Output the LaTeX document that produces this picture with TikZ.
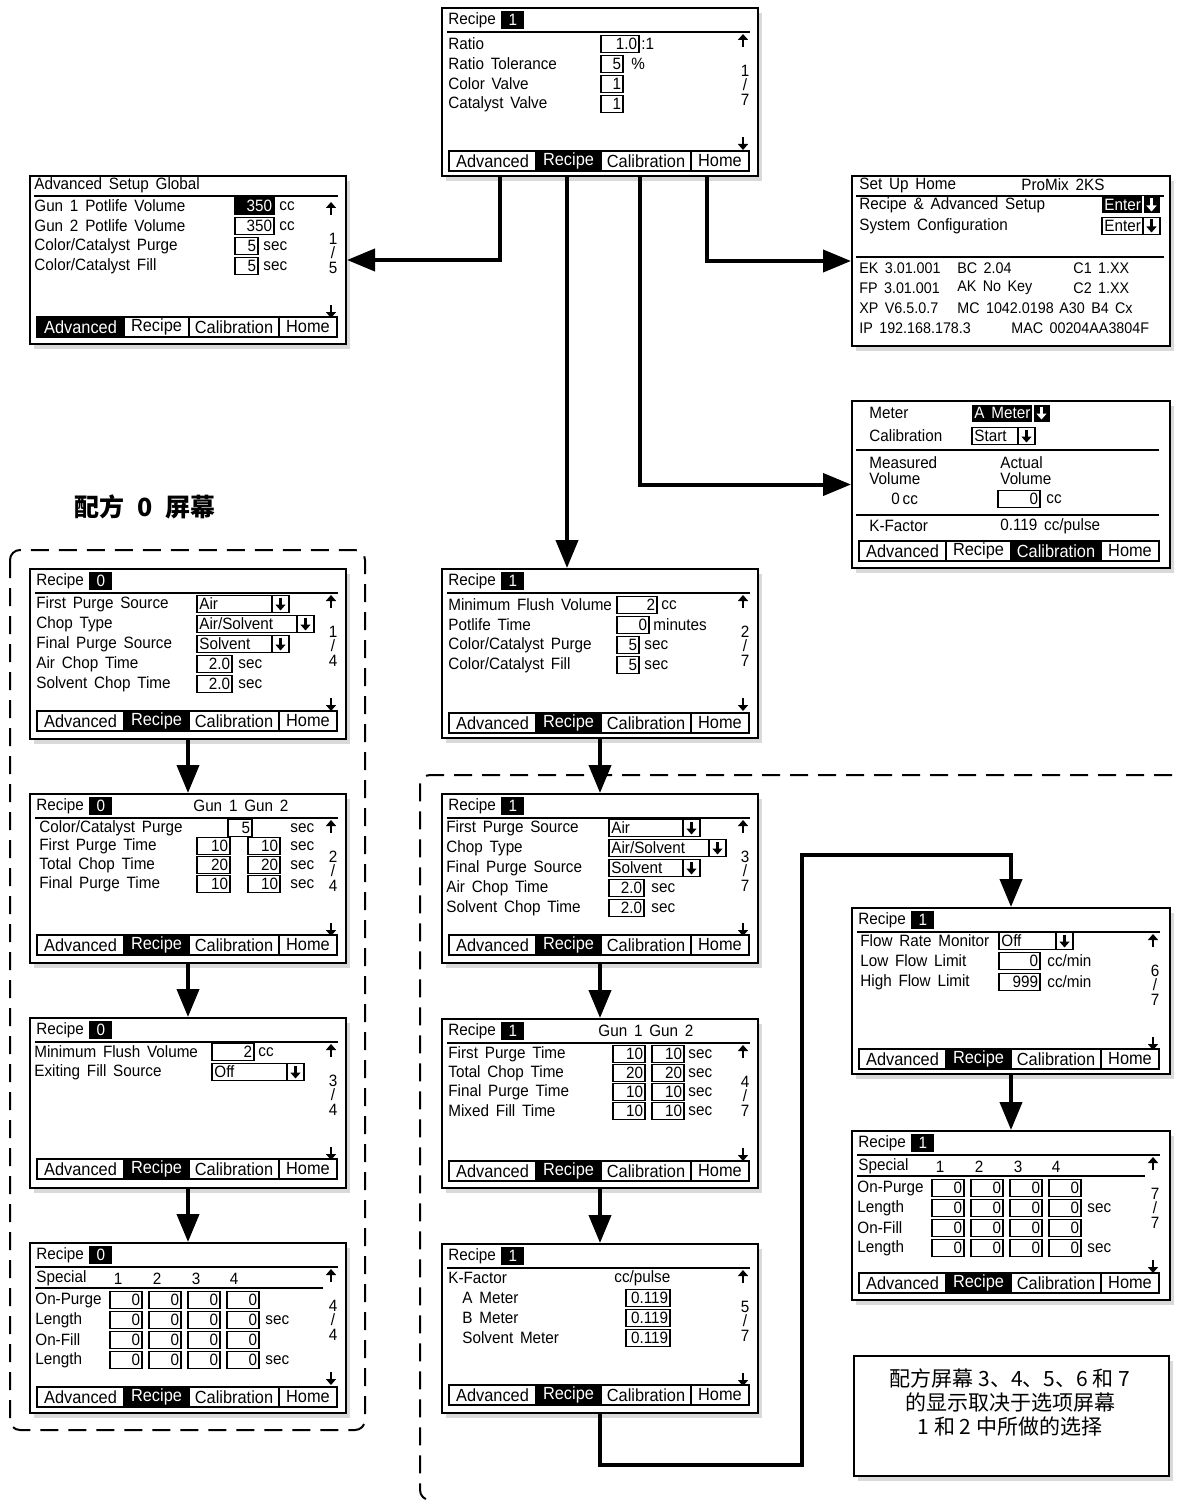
\documentclass[tikz,border=0pt]{standalone}
\usepackage{fontspec}
\setmainfont{Liberation Sans}
\newfontfamily\lcdfont{Liberation Sans}[FakeStretch=0.93,WordSpace=1.6]
\newfontfamily\cjk{Noto Sans CJK SC}
\usepackage{tikz}
\usetikzlibrary{arrows.meta, shadows, calc, positioning}

%% screen pieces, all in pixel units of the local screen origin
\newcommand\scrframe[3]{%
  \pgfmathsetmacro\scrw{#2*0.5}\pgfmathsetmacro\scrh{#3*0.5}%
  \node[scrframe, minimum width=\scrw pt, minimum height=\scrh pt] (#1) at (0,0) {};}
\newcommand\scrlab[3]{\node[lcd, anchor=west] at (#1,#2) {#3};}
\newcommand\scrinfo[3]{\node[lcd, font=\lcdfont\fontsize{7.7}{9}\selectfont, anchor=west] at (#1,#2) {#3};}
\newcommand\scrtitle[1]{%
  \scrlab{7}{13}{Recipe}
  \node[lcd, fill=black, text=white, minimum width=11.5pt, minimum height=9pt, anchor=west] at (60,13) {#1};
  \draw[rule] (6,25) -- (309,25);}
\newcommand\valbox[5][]{%
  \draw[valbox, #1] (#2,#4-8.5) rectangle (#3,#4+8.5);
  \node[lcd, anchor=east, #1] at (#3-1.5,#4) {#5};}
\newcommand\dropbox[4]{%
  \draw[valbox] (#1,#3-8.5) rectangle (#2,#3+8.5);
  \draw[valbox] (#2-17,#3-8.5) -- (#2-17,#3+8.5);
  \node[lcd, anchor=west] at (#1+2,#3) {#4};
  \draw[glyph] (#2-8.5,#3-6.5) -- (#2-8.5,#3+6.5);}
\newcommand\dropboxinv[4]{%
  \fill (#1,#3-8.5) rectangle (#2,#3+8.5);
  \draw[white, line width=0.8pt] (#2-17,#3-8.5) -- (#2-17,#3+8.5);
  \node[lcd, text=white, anchor=west] at (#1+2,#3) {#4};
  \draw[glyph, white] (#2-8.5,#3-6.5) -- (#2-8.5,#3+6.5);}
\newcommand\scrpage[2]{%
  \draw[glyph] (302,40) -- (302,27);
  \node[lcd] at (304,64) {#1};
  \node[lcd] at (304,78) {/};
  \node[lcd] at (304,93) {#2};
  \draw[glyph] (302,130) -- (302,143);}
\newcommand\scrtabs[2]{%
  \foreach \tabname/\xa/\xb [count=\tabno] in {Advanced/8/95,Recipe/95/160,Calibration/160/250,Home/250/308}{%
    \ifnum\tabno=#2\relax
      \draw[tabcell, fill=black] (\xa,#1) rectangle (\xb,#1+20);
      \node[tabtext, text=white] at ({(\xa+\xb)/2},#1+10) {\tabname};
    \else
      \draw[tabcell] (\xa,#1) rectangle (\xb,#1+20);
      \node[tabtext] at ({(\xa+\xb)/2},#1+10) {\tabname};
    \fi}}
\newcommand\scrspecial{%
  \scrlab{7}{36}{Special}
  \foreach \num/\xn in {1/89,2/128,3/167,4/205}{\node[lcd] at (\xn,37) {\num};}
  \draw[rule] (6,46) -- (294,46);
  \foreach \rowname/\yr in {On-Purge/58,Length/78,On-Fill/98,Length/118}{%
    \scrlab{6}{\yr}{\rowname}
    \foreach \xa in {81,120,159,198}{\valbox{\xa}{\xa+32}{\yr}{0}}}
  \scrlab{236}{78}{sec}
  \scrlab{236}{118}{sec}}

\begin{document}
\begin{tikzpicture}[
    x=0.5pt, y=-0.5pt,
    lcd/.style      = {font=\lcdfont\fontsize{8.2}{9}\selectfont, inner sep=0pt},
    tabtext/.style  = {font=\lcdfont\fontsize{8.8}{10}\selectfont, inner sep=0pt},
    scrframe/.style = {draw, line width=1pt, fill=white, anchor=north west, inner sep=0pt,
                       drop shadow={shadow xshift=2pt, shadow yshift=-2.5pt, opacity=0.3}},
    valbox/.style   = {draw, line width=0.6pt},
    tabcell/.style  = {draw, line width=0.6pt},
    rule/.style     = {line width=0.7pt},
    glyph/.style    = {line width=1.3pt, -{Triangle[length=3pt, width=5pt]}},
    flow/.style     = {line width=2pt, -{Triangle[length=14pt, width=11pt]}},
    region/.style   = {line width=1pt, dash pattern=on 9pt off 5pt, rounded corners=5pt},
    notebox/.style  = {draw, line width=1pt, fill=white, anchor=north west, inner sep=0pt,
                       drop shadow={shadow xshift=2pt, shadow yshift=-2.5pt, opacity=0.3}},
  ]
  \useasboundingbox (0,0) rectangle (1182,1503);

  %% Dashed groups
  \draw[region] (10,550) rectangle (365,1430);
  \draw[region] (1200,775) -- (420,775) -- (420,1500) -- (434,1500);
  \node[font=\cjk\bfseries\fontsize{12.5}{14}\selectfont] (titleZero) at (145,507)
    {配方\hspace{0.5em}0\hspace{0.5em}屏幕};

  %% Recipe 1, screen 1
  \begin{scope}[shift={(441,7)}]
    \scrframe{scrRatio}{316}{168}
    \scrtitle{1}
    \scrlab{7}{37}{Ratio}            \valbox{160}{198}{37}{1.0} \scrlab{200}{37}{:1}
    \scrlab{7}{57}{Ratio Tolerance}  \valbox{160}{182}{57}{5}   \scrlab{190}{57}{\%}
    \scrlab{7}{77}{Color Valve}      \valbox{160}{182}{77}{1}
    \scrlab{7}{97}{Catalyst Valve}   \valbox{160}{182}{97}{1}
    \scrpage{1}{7}
    \scrtabs{144}{2}
  \end{scope}

  %% Advanced setup
  \begin{scope}[shift={(29,175)}]
    \scrframe{scrAdv}{316}{168}
    \scrlab{5}{10}{Advanced Setup Global}
    \draw[rule] (5,21) -- (309,21);
    \scrlab{5}{31}{Gun 1 Potlife Volume} \valbox[fill=black, text=white]{206}{245}{31}{350} \scrlab{250}{31}{cc}
    \scrlab{5}{51}{Gun 2 Potlife Volume} \valbox{206}{245}{51}{350} \scrlab{250}{51}{cc}
    \scrlab{5}{71}{Color/Catalyst Purge} \valbox{206}{229}{71}{5}   \scrlab{234}{71}{sec}
    \scrlab{5}{91}{Color/Catalyst Fill}  \valbox{206}{229}{91}{5}   \scrlab{234}{91}{sec}
    \scrpage{1}{5}
    \scrtabs{142}{1}
  \end{scope}

  %% Set up home
  \begin{scope}[shift={(851,175)}]
    \scrframe{scrHome}{318}{170}
    \scrlab{8}{10}{Set Up Home} \scrlab{170}{10}{ProMix 2KS}
    \draw[rule] (5,21) -- (313,21);
    \scrlab{8}{30}{Recipe \& Advanced Setup} \dropboxinv{251}{309}{30}{Enter}
    \scrlab{8}{51}{System Configuration}     \dropbox{251}{309}{51}{Enter}
    \draw[rule] (5,82) -- (313,82);
    \scrinfo{8}{93}{EK 3.01.001}       \scrinfo{106}{93}{BC 2.04}       \scrinfo{222}{93}{C1 1.XX}
    \scrinfo{8}{113}{FP 3.01.001}      \scrinfo{106}{113}{AK No Key}    \scrinfo{222}{113}{C2 1.XX}
    \scrinfo{8}{133}{XP V6.5.0.7}      \scrinfo{106}{133}{MC 1042.0198} \scrinfo{208}{133}{A30 B4 Cx}
    \scrinfo{8}{153}{IP 192.168.178.3} \scrinfo{160}{153}{MAC 00204AA3804F}
  \end{scope}

  %% Calibration
  \begin{scope}[shift={(851,400)}]
    \scrframe{scrCal}{318}{167}
    \scrlab{18}{13}{Meter}       \dropboxinv{121}{199}{13}{A Meter}
    \scrlab{18}{36}{Calibration} \dropbox{121}{184}{36}{Start}
    \draw[rule] (5,50) -- (308,50);
    \scrlab{18}{63}{Measured} \scrlab{149}{63}{Actual}
    \scrlab{18}{79}{Volume}   \scrlab{149}{79}{Volume}
    \scrlab{40}{99}{0\,cc}    \valbox{147}{189}{99}{0} \scrlab{195}{99}{cc}
    \draw[rule] (5,115) -- (308,115);
    \scrlab{18}{126}{K-Factor} \scrlab{149}{126}{0.119 cc/pulse}
    \scrtabs{141}{3}
  \end{scope}

  %% Recipe 0 screens
  \begin{scope}[shift={(29,568)}]
    \scrframe{scrZeroA}{316}{170}
    \scrtitle{0}
    \scrlab{7}{36}{First Purge Source} \dropbox{168}{260}{36}{Air}
    \scrlab{7}{56}{Chop Type}          \dropbox{168}{285}{56}{Air/Solvent}
    \scrlab{7}{76}{Final Purge Source} \dropbox{168}{260}{76}{Solvent}
    \scrlab{7}{96}{Air Chop Time}      \valbox{168}{203}{96}{2.0}  \scrlab{209}{96}{sec}
    \scrlab{7}{116}{Solvent Chop Time} \valbox{168}{203}{116}{2.0} \scrlab{209}{116}{sec}
    \scrpage{1}{4}
    \scrtabs{143}{2}
  \end{scope}

  \begin{scope}[shift={(29,793)}]
    \scrframe{scrZeroB}{316}{169}
    \scrtitle{0}
    \scrlab{164}{13}{Gun 1 Gun 2}
    \scrlab{10}{35}{Color/Catalyst Purge} \valbox{199}{223}{35}{5} \scrlab{261}{35}{sec}
    \scrlab{10}{53}{First Purge Time} \valbox{168}{201}{53}{10} \valbox{219}{251}{53}{10} \scrlab{261}{53}{sec}
    \scrlab{10}{72}{Total Chop Time}  \valbox{168}{201}{72}{20} \valbox{219}{251}{72}{20} \scrlab{261}{72}{sec}
    \scrlab{10}{91}{Final Purge Time} \valbox{168}{201}{91}{10} \valbox{219}{251}{91}{10} \scrlab{261}{91}{sec}
    \scrpage{2}{4}
    \scrtabs{142}{2}
  \end{scope}

  \begin{scope}[shift={(29,1017)}]
    \scrframe{scrZeroC}{316}{170}
    \scrtitle{0}
    \scrlab{5}{35}{Minimum Flush Volume} \valbox{183}{225}{35}{2} \scrlab{229}{35}{cc}
    \scrlab{5}{55}{Exiting Fill Source}  \dropbox{183}{275}{55}{Off}
    \scrpage{3}{4}
    \scrtabs{142}{2}
  \end{scope}

  \begin{scope}[shift={(29,1242)}]
    \scrframe{scrZeroD}{316}{170}
    \scrtitle{0}
    \scrspecial
    \scrpage{4}{4}
    \scrtabs{145}{2}
  \end{scope}

  %% Recipe 1 screens
  \begin{scope}[shift={(441,568)}]
    \scrframe{scrOneA}{316}{169}
    \scrtitle{1}
    \scrlab{7}{37}{Minimum Flush Volume} \valbox{176}{216}{37}{2} \scrlab{220}{37}{cc}
    \scrlab{7}{57}{Potlife Time}         \valbox{176}{208}{57}{0} \scrlab{212}{57}{minutes}
    \scrlab{7}{77}{Color/Catalyst Purge} \valbox{176}{198}{77}{5} \scrlab{203}{77}{sec}
    \scrlab{7}{97}{Color/Catalyst Fill}  \valbox{176}{198}{97}{5} \scrlab{203}{97}{sec}
    \scrpage{2}{7}
    \scrtabs{145}{2}
  \end{scope}

  \begin{scope}[shift={(441,793)}]
    \scrframe{scrOneB}{316}{169}
    \scrtitle{1}
    \scrlab{5}{35}{First Purge Source} \dropbox{168}{259}{35}{Air}
    \scrlab{5}{55}{Chop Type}          \dropbox{168}{285}{55}{Air/Solvent}
    \scrlab{5}{75}{Final Purge Source} \dropbox{168}{259}{75}{Solvent}
    \scrlab{5}{95}{Air Chop Time}      \valbox{168}{203}{95}{2.0}  \scrlab{210}{95}{sec}
    \scrlab{5}{115}{Solvent Chop Time} \valbox{168}{203}{115}{2.0} \scrlab{210}{115}{sec}
    \scrpage{3}{7}
    \scrtabs{142}{2}
  \end{scope}

  \begin{scope}[shift={(441,1018)}]
    \scrframe{scrOneC}{316}{169}
    \scrtitle{1}
    \scrlab{157}{13}{Gun 1 Gun 2}
    \scrlab{7}{36}{First Purge Time} \valbox{172}{204}{36}{10} \valbox{211}{243}{36}{10} \scrlab{247}{36}{sec}
    \scrlab{7}{55}{Total Chop Time}  \valbox{172}{204}{55}{20} \valbox{211}{243}{55}{20} \scrlab{247}{55}{sec}
    \scrlab{7}{74}{Final Purge Time} \valbox{172}{204}{74}{10} \valbox{211}{243}{74}{10} \scrlab{247}{74}{sec}
    \scrlab{7}{93}{Mixed Fill Time}  \valbox{172}{204}{93}{10} \valbox{211}{243}{93}{10} \scrlab{247}{93}{sec}
    \scrpage{4}{7}
    \scrtabs{143}{2}
  \end{scope}

  \begin{scope}[shift={(441,1243)}]
    \scrframe{scrOneD}{316}{169}
    \scrtitle{1}
    \scrlab{7}{35}{K-Factor} \scrlab{173}{35}{cc/pulse}
    \scrlab{21}{55}{A Meter}       \valbox{185}{229}{55}{0.119}
    \scrlab{21}{75}{B Meter}       \valbox{185}{229}{75}{0.119}
    \scrlab{21}{95}{Solvent Meter} \valbox{185}{229}{95}{0.119}
    \scrpage{5}{7}
    \scrtabs{142}{2}
  \end{scope}

  \begin{scope}[shift={(851,907)}]
    \scrframe{scrOneE}{318}{166}
    \scrtitle{1}
    \scrlab{9}{34}{Flow Rate Monitor} \dropbox{148}{222}{34}{Off}
    \scrlab{9}{54}{Low Flow Limit}    \valbox{148}{189}{54}{0}   \scrlab{196}{54}{cc/min}
    \scrlab{9}{75}{High Flow Limit}   \valbox{148}{189}{75}{999} \scrlab{196}{75}{cc/min}
    \scrpage{6}{7}
    \scrtabs{142}{2}
  \end{scope}

  \begin{scope}[shift={(851,1130)}]
    \scrframe{scrOneF}{318}{169}
    \scrtitle{1}
    \scrspecial
    \scrpage{7}{7}
    \scrtabs{143}{2}
  \end{scope}

  %% Note
  \node[notebox, minimum width=157.5pt, minimum height=60pt] (note) at (853,1355) {};
  \node[font=\cjk\fontsize{10.5}{12}\selectfont, align=center, anchor=north] (noteText) at (1010,1362)
    {配方屏幕 3、4、5、6 和 7\\的显示取决于选项屏幕\\1 和 2 中所做的选择};

  %% Connectors
  \draw[flow] (scrRatio.south west) ++(59,0) |- (scrAdv.east);
  \draw[flow] (scrRatio.south west) ++(266,0) |- (scrHome.west);
  \draw[flow] (scrRatio.south west) ++(199,0) |- (scrCal.west);
  \draw[flow] (scrRatio.south west) ++(126,0) coordinate (tapOne) -- (tapOne |- scrOneA.north);

  \draw[flow] (scrZeroA.south) -- (scrZeroB.north);
  \draw[flow] (scrZeroB.south) -- (scrZeroC.north);
  \draw[flow] (scrZeroC.south) -- (scrZeroD.north);

  \draw[flow] (scrOneA.south) -- (scrOneB.north);
  \draw[flow] (scrOneB.south) -- (scrOneC.north);
  \draw[flow] (scrOneC.south) -- (scrOneD.north);
  \coordinate (loopLow)  at (802,1465);
  \coordinate (loopHigh) at (802,855);
  \draw[flow] (scrOneD.south) |- (loopLow) -- (loopHigh) -| (scrOneE.north);
  \draw[flow] (scrOneE.south) -- (scrOneF.north);

\end{tikzpicture}
\end{document}
